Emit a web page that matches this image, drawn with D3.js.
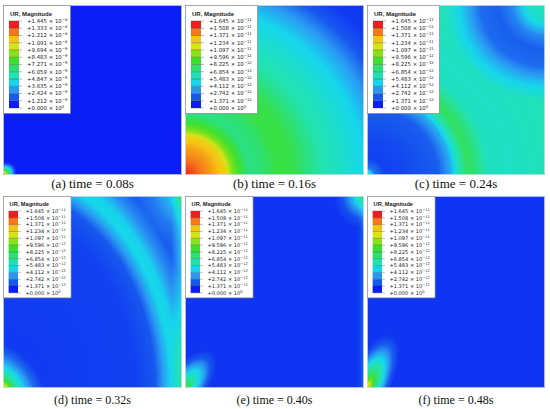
<!DOCTYPE html>
<html><head><meta charset="utf-8">
<script src="https://cdn.jsdelivr.net/npm/d3@7"></script>
<style>html,body{margin:0;padding:0;background:#fff;} svg{display:block;}</style>
</head><body>
<svg id="chart" width="550" height="409"></svg>
<script>
// ---------------- data ----------------
const panelLetters = ["a","b","c","d","e","f"];
const timeLabels = ["(a) time = 0.08s","(b) time = 0.16s","(c) time = 0.24s","(d) time = 0.32s","(e) time = 0.40s","(f) time = 0.48s"];
const legendTitle = "UR, Magnitude";
// contour band colours, lowest band first
const levelColors = ["#0a1ef5","#1758ee","#2a98f2","#16d6ec","#22e2b4","#2ee070","#3ee030","#88e21a","#d6e21a","#f6c414","#f5781a","#ee1e1e"];
// legend tick labels, top to bottom
const legendMantissaA = ["+1.445","+1.333","+1.212","+1.091","+9.694","+8.483","+7.271","+6.059","+4.847","+3.635","+2.424","+1.212","+0.000"];
const legendExponentA = [-8,-8,-8,-8,-9,-9,-9,-9,-9,-9,-9,-9,0];
const legendMantissaB = ["+1.645","+1.508","+1.371","+1.234","+1.097","+9.596","+8.225","+6.854","+5.483","+4.112","+2.742","+1.371","+0.000"];
const legendExponentB = [-11,-11,-11,-11,-11,-12,-12,-12,-12,-12,-12,-12,0];
const legendType = ["A","B","B","B","B","B"];

// Field: levels in legend-band units (0 = bottom of blue, 12 = top of red).
// Travelling wave front from the bottom-left corner: radius (fraction of panel) -> level
const waveRadii = [
  [0, 1.6],
  [0,0.08,0.16,0.22,0.27,0.31,0.36,0.44,0.52,0.6,0.68,0.76,0.86,1.0,1.1,1.2,1.3,1.42],
  [0,0.04,0.1,0.2,0.3,0.4,0.47,0.52,0.57,0.62,0.68,0.8,1.0,1.2,1.42],
  [0,0.3,0.9,1.03,1.09,1.14,1.19,1.25,1.33,1.45,1.57],
  [0, 1.6],
  [0, 1.6]
];
const waveLevels = [
  [0.3, 0.3],
  [11.5,10.6,9.9,9.2,7.2,6.3,5.2,5.5,6.2,6.1,5.3,4.6,4.2,3.5,2.6,1.5,1.0,0.9],
  [5.5,2.0,1.1,1.2,1.4,1.6,2.8,4.6,5.8,5.2,4.3,4.2,4.4,4.4,4.6],
  [1.0,1.0,1.1,1.5,2.7,3.6,3.4,2.4,1.6,1.8,2.2],
  [0.9, 0.9],
  [0.9, 0.9]
];
const waveAspect = [1, 1, 1, 1.21, 1, 1];
// Hot spot at the loaded corner: distance along its streak -> level
const coreRadii = [
  [0,0.012,0.025,0.04,0.06,0.085],
  [0, 1],
  [0, 1],
  [0,0.02,0.04,0.07,0.11,0.15,0.2],
  [0,0.02,0.05,0.09,0.14,0.19,0.24],
  [0,0.02,0.05,0.09,0.14,0.19,0.25,0.31]
];
const coreLevels = [
  [11.5,10,7.5,5,2.5,0.3],
  [0, 0],
  [0, 0],
  [10,8,6,4.5,3,1.8,1.0],
  [7,6,5,4,2.8,1.5,0.9],
  [10.5,9,7,5.5,4.4,3.0,1.6,0.9]
];
const coreAngle = [45, 45, 45, 45, 50, 62];   // streak direction, degrees from the bottom edge
const coreElong = [1.3, 1, 1, 0.7, 2.2, 2.6];  // length / width of the streak
// Reflection near the top-right corner: distance -> level change
const cornerDist = [
  [0,1],[0,1],
  [0,0.1,0.18,0.26,0.36,0.46,0.56],
  [0,0.08,0.16,0.25],
  [0,0.04,0.08,0.12,0.17],
  [0,1]
];
const cornerDelta = [
  [0,0],[0,0],
  [0,-0.6,-2.2,-2.8,-2.6,-1.2,0],
  [2.0,1.0,0.3,0],
  [4.0,3.0,1.6,0.5,0],
  [0,0]
];
// Reflection along the right edge: distance -> level change
const edgeDist = [[0,1],[0,1],[0,1],[0,0.03,0.06],[0,0.02,0.04],[0,1]];
const edgeDelta = [[0,0],[0,0],[0,0],[1.6,0.7,0],[0.8,0.3,0],[0,0]];

// ---------------- layout ----------------
const colX = [3,185,367], colW = [179,179,178];
const rowY = [5,196], rowH = [170,192];
const rowFont = [13,12], rowLabelY = [188,403.5];
const rowLegendScale = [1, 0.94];

const svg = d3.select("#chart");
const colorScale = d3.scaleLinear()
  .domain(levelColors.map((c,i)=>i+0.5))
  .range(levelColors)
  .interpolate(d3.interpolateRgb)
  .clamp(true);
const lut = d3.range(0,1201).map(i=>d3.rgb(colorScale(i/100)));

panelLetters.forEach((p,k)=>{
  const col = k%3, row = Math.floor(k/3);
  const x0 = colX[col], y0 = rowY[row], w = colW[col], h = rowH[row];
  const wave = d3.scaleLinear().domain(waveRadii[k]).range(waveLevels[k]).clamp(true);
  const core = d3.scaleLinear().domain(coreRadii[k]).range(coreLevels[k]).clamp(true);
  const corner = d3.scaleLinear().domain(cornerDist[k]).range(cornerDelta[k]).clamp(true);
  const edge = d3.scaleLinear().domain(edgeDist[k]).range(edgeDelta[k]).clamp(true);
  const uS = d3.scaleLinear().domain([0,w]).range([0,1]);
  const vS = d3.scaleLinear().domain([0,h]).range([1,0]);
  const a = waveAspect[k], E = coreElong[k];
  const phi = coreAngle[k]*Math.PI/180, cs = Math.cos(phi), sn = Math.sin(phi);

  const canvas = document.createElement("canvas");
  canvas.width = w; canvas.height = h;
  const ctx = canvas.getContext("2d");
  const img = ctx.createImageData(w,h);
  for (let j=0;j<h;j++){
    const v = vS(j+0.5);
    for (let i=0;i<w;i++){
      const u = uS(i+0.5);
      const rw = Math.sqrt(a*a*u*u + v*v);
      const pp = u*cs + v*sn, qq = -u*sn + v*cs;
      const rc = Math.sqrt(pp*pp + qq*qq*E*E);
      const dtr = Math.sqrt((1-u)*(1-u)+(1-v)*(1-v));
      let L = Math.max(wave(rw), core(rc)) + corner(dtr) + edge(1-u);
      L = Math.max(0, Math.min(12, L));
      const c = lut[Math.round(L*100)];
      const o = (j*w+i)*4;
      img.data[o]=c.r; img.data[o+1]=c.g; img.data[o+2]=c.b; img.data[o+3]=255;
    }
  }
  ctx.putImageData(img,0,0);
  svg.append("image").attr("x",x0).attr("y",y0).attr("width",w).attr("height",h)
    .attr("preserveAspectRatio","none").attr("href",canvas.toDataURL());
  svg.append("rect").attr("x",x0+0.4).attr("y",y0+0.4).attr("width",w-0.8).attr("height",h-0.8)
    .attr("fill","none").attr("stroke","#d6dbe6").attr("stroke-width",0.8);

  // legend
  const isA = legendType[k]==="A";
  const mant = isA ? legendMantissaA : legendMantissaB;
  const expo = isA ? legendExponentA : legendExponentB;
  const lw = isA ? 67 : 72;
  const g = svg.append("g").attr("transform",`translate(${x0},${y0}) scale(${rowLegendScale[row]})`);
  g.append("rect").attr("x",0.4).attr("y",0.4).attr("width",lw).attr("height",108)
    .attr("fill","#fff").attr("stroke","#8a8a8a").attr("stroke-width",0.7);
  g.append("text").attr("x",7).attr("y",10.5)
    .attr("font-family","Liberation Sans, Arial, sans-serif").attr("font-weight","bold")
    .attr("font-size",6.0).attr("fill","#222").text(legendTitle);
  const yL = d3.scaleLinear().domain([12,0]).range([16,103]);
  g.selectAll("rect.band").data(levelColors).enter().append("rect").attr("class","band")
    .attr("x",6).attr("width",10)
    .attr("y",(c,i)=>yL(i+1)).attr("height",(c,i)=>yL(i)-yL(i+1))
    .attr("fill",c=>c);
  g.selectAll("line.tick").data(d3.range(13)).enter().append("line").attr("class","tick")
    .attr("x1",6).attr("x2",19).attr("y1",i=>yL(i)).attr("y2",i=>yL(i))
    .attr("stroke","#333").attr("stroke-width",0.35);
  const t = g.selectAll("text.lab").data(mant).enter().append("text").attr("class","lab")
    .attr("x",24).attr("y",(m,i)=>yL(12-i)+1.9)
    .attr("font-family","DejaVu Sans, Verdana, sans-serif").attr("font-size",5.4).attr("fill","#222");
  t.append("tspan").text(m=>m+" \u00d7 10");
  t.append("tspan").attr("dy",-2.1).attr("font-size",3.8)
    .text((m,i)=> expo[i]===0 ? "0" : "\u2212"+Math.abs(expo[i]));

  // caption
  svg.append("text").attr("x",x0+w/2).attr("y",rowLabelY[row]).attr("text-anchor","middle")
    .attr("font-family","Liberation Serif, Times New Roman, serif").attr("font-size",rowFont[row])
    .attr("fill","#111").text(timeLabels[k]);
});
</script>
</body></html>
